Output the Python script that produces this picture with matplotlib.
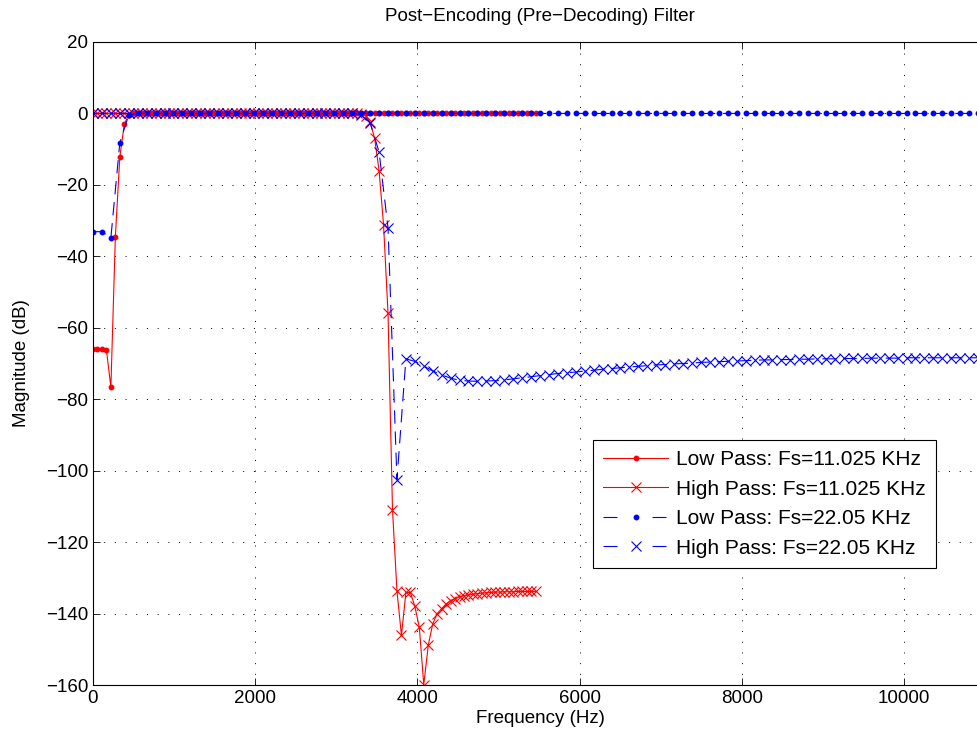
import numpy as np
import matplotlib
matplotlib.use('Agg')
import matplotlib.pyplot as plt

plt.rcParams['font.family'] = ['Liberation Sans', 'DejaVu Sans']

# frequency grids (100 freqz points over half the sampling rate)
fs_low = 11025.0
fs_high = 22050.0
n_pts = 100
freq_11k = np.arange(n_pts) * fs_low / (2 * n_pts)
freq_22k = np.arange(n_pts) * fs_high / (2 * n_pts)

# Low Pass: Fs=11.025 KHz (red, dots)
lp_11k = [
    -66.0, -66.0, -66.0, -66.2, -76.6, -34.6, -12.2, -3.0, -0.4, 0.0,
    0.0, 0.0, 0.0, 0.0, 0.0, 0.0, 0.0, 0.0, 0.0, 0.0,
    0.0, 0.0, 0.0, 0.0, 0.0, 0.0, 0.0, 0.0, 0.0, 0.0,
    0.0, 0.0, 0.0, 0.0, 0.0, 0.0, 0.0, 0.0, 0.0, 0.0,
    0.0, 0.0, 0.0, 0.0, 0.0, 0.0, 0.0, 0.0, 0.0, 0.0,
    0.0, 0.0, 0.0, 0.0, 0.0, 0.0, 0.0, 0.0, 0.0, 0.0,
    0.0, 0.0, 0.0, 0.0, 0.0, 0.0, 0.0, 0.0, 0.0, 0.0,
    0.0, 0.0, 0.0, 0.0, 0.0, 0.0, 0.0, 0.0, 0.0, 0.0,
    0.0, 0.0, 0.0, 0.0, 0.0, 0.0, 0.0, 0.0, 0.0, 0.0,
    0.0, 0.0, 0.0, 0.0, 0.0, 0.0, 0.0, 0.0, 0.0, 0.0,
]

# High Pass: Fs=11.025 KHz (red, x)
hp_11k = [
    0.0, 0.0, 0.0, 0.0, 0.0, 0.0, 0.0, 0.0, 0.0, 0.0,
    0.0, 0.0, 0.0, 0.0, 0.0, 0.0, 0.0, 0.0, 0.0, 0.0,
    0.0, 0.0, 0.0, 0.0, 0.0, 0.0, 0.0, 0.0, 0.0, 0.0,
    0.0, 0.0, 0.0, 0.0, 0.0, 0.0, 0.0, 0.0, 0.0, 0.0,
    0.0, 0.0, 0.0, 0.0, 0.0, 0.0, 0.0, 0.0, 0.0, 0.0,
    0.0, 0.0, 0.0, 0.0, 0.0, 0.0, 0.0, 0.0, 0.0, 0.0,
    -0.1, -0.6, -2.5, -6.9, -16.0, -31.2, -55.9, -110.9, -133.7, -146.1,
    -134.1, -134.1, -138.0, -143.8, -159.9, -148.9, -142.9, -140.0, -138.6, -137.3,
    -136.4, -135.8, -135.3, -135.0, -134.8, -134.6, -134.4, -134.3, -134.2, -134.1,
    -134.0, -134.0, -133.9, -133.9, -133.9, -133.8, -133.8, -133.8, -133.8, -133.8,
]

# Low Pass: Fs=22.05 KHz (blue, dots)
lp_22k = [
    -33.1, -33.1, -34.8, -8.2, -0.4, 0.0, 0.0, 0.0, 0.0, 0.0,
    0.0, 0.0, 0.0, 0.0, 0.0, 0.0, 0.0, 0.0, 0.0, 0.0,
    0.0, 0.0, 0.0, 0.0, 0.0, 0.0, 0.0, 0.0, 0.0, 0.0,
    0.0, 0.0, 0.0, 0.0, 0.0, 0.0, 0.0, 0.0, 0.0, 0.0,
    0.0, 0.0, 0.0, 0.0, 0.0, 0.0, 0.0, 0.0, 0.0, 0.0,
    0.0, 0.0, 0.0, 0.0, 0.0, 0.0, 0.0, 0.0, 0.0, 0.0,
    0.0, 0.0, 0.0, 0.0, 0.0, 0.0, 0.0, 0.0, 0.0, 0.0,
    0.0, 0.0, 0.0, 0.0, 0.0, 0.0, 0.0, 0.0, 0.0, 0.0,
    0.0, 0.0, 0.0, 0.0, 0.0, 0.0, 0.0, 0.0, 0.0, 0.0,
    0.0, 0.0, 0.0, 0.0, 0.0, 0.0, 0.0, 0.0, 0.0, 0.0,
]

# High Pass: Fs=22.05 KHz (blue, x)
hp_22k = [
    0.0, 0.0, 0.0, 0.0, 0.0, 0.0, 0.0, 0.0, 0.0, 0.0,
    0.0, 0.0, 0.0, 0.0, 0.0, 0.0, 0.0, 0.0, 0.0, 0.0,
    0.0, 0.0, 0.0, 0.0, 0.0, 0.0, 0.0, 0.0, 0.0, 0.0,
    -0.3, -2.6, -10.8, -32.0, -102.5, -68.7, -69.4, -70.7, -72.1, -73.2,
    -74.1, -74.7, -74.9, -75.0, -74.9, -74.8, -74.6, -74.3, -74.0, -73.7,
    -73.4, -73.1, -72.8, -72.6, -72.4, -72.1, -71.9, -71.6, -71.4, -71.2,
    -71.0, -70.8, -70.6, -70.4, -70.3, -70.1, -70.0, -69.9, -69.7, -69.6,
    -69.5, -69.4, -69.3, -69.2, -69.1, -69.0, -69.0, -68.9, -68.9, -68.8,
    -68.8, -68.7, -68.7, -68.7, -68.6, -68.6, -68.6, -68.5, -68.5, -68.5,
    -68.5, -68.4, -68.4, -68.4, -68.4, -68.4, -68.4, -68.4, -68.4, -68.4,
]

x_ticks = [0, 2000, 4000, 6000, 8000, 10000]
y_ticks = list(range(-160, 21, 20))

fig = plt.figure(figsize=(9.78, 7.44), dpi=100)
# the right edge of the axes sits just past the figure border (cropped view)
ax = fig.add_axes([93 / 978, 59 / 744, 894 / 978, 643 / 744])

lw = 0.8
dash = (0, (12, 7))
ax.plot(freq_11k, lp_11k, color='red', ls='-', lw=lw, marker='o', ms=3.2,
        label='Low Pass: Fs=11.025 KHz')
ax.plot(freq_11k, hp_11k, color='red', ls='-', lw=lw, marker='x', ms=7,
        mew=0.8, label='High Pass: Fs=11.025 KHz')
ax.plot(freq_22k, lp_22k, color='blue', ls=dash, lw=lw, marker='o',
        ms=3.2, label='Low Pass: Fs=22.05 KHz')
ax.plot(freq_22k, hp_22k, color='blue', ls=dash, lw=lw, marker='x',
        ms=7, mew=0.8, label='High Pass: Fs=22.05 KHz')

ax.set_xlim(0, fs_low)
ax.set_ylim(-160, 20)
ax.set_xticks(x_ticks)
ax.set_yticks(y_ticks)
ax.grid(True, color='black', ls=(0, (1, 10)), lw=0.7)
ax.tick_params(direction='in', top=True, right=True, labelsize=13.5,
               length=5, width=0.6)
for sp in ax.spines.values():
    sp.set_linewidth(0.8)

ax.set_xlabel('Frequency (Hz)', fontsize=13.5, labelpad=2)
ax.set_ylabel('Magnitude (dB)', fontsize=13.5, labelpad=11)
ax.set_title('Post\u2212Encoding (Pre\u2212Decoding) Filter', fontsize=13.5,
             pad=15)

leg = ax.legend(loc='lower left', bbox_to_anchor=(0.5593, 0.182),
                fontsize=15, numpoints=1, fancybox=False, framealpha=1,
                edgecolor='black', borderpad=0.5, labelspacing=0.5,
                handlelength=3.1, handletextpad=0.4, borderaxespad=0)
leg.get_frame().set_linewidth(0.8)
for h in leg.legend_handles[2:]:
    h.set_linestyle((0, (12.6, 31.5)))

fig.savefig('out.png', dpi=100)
